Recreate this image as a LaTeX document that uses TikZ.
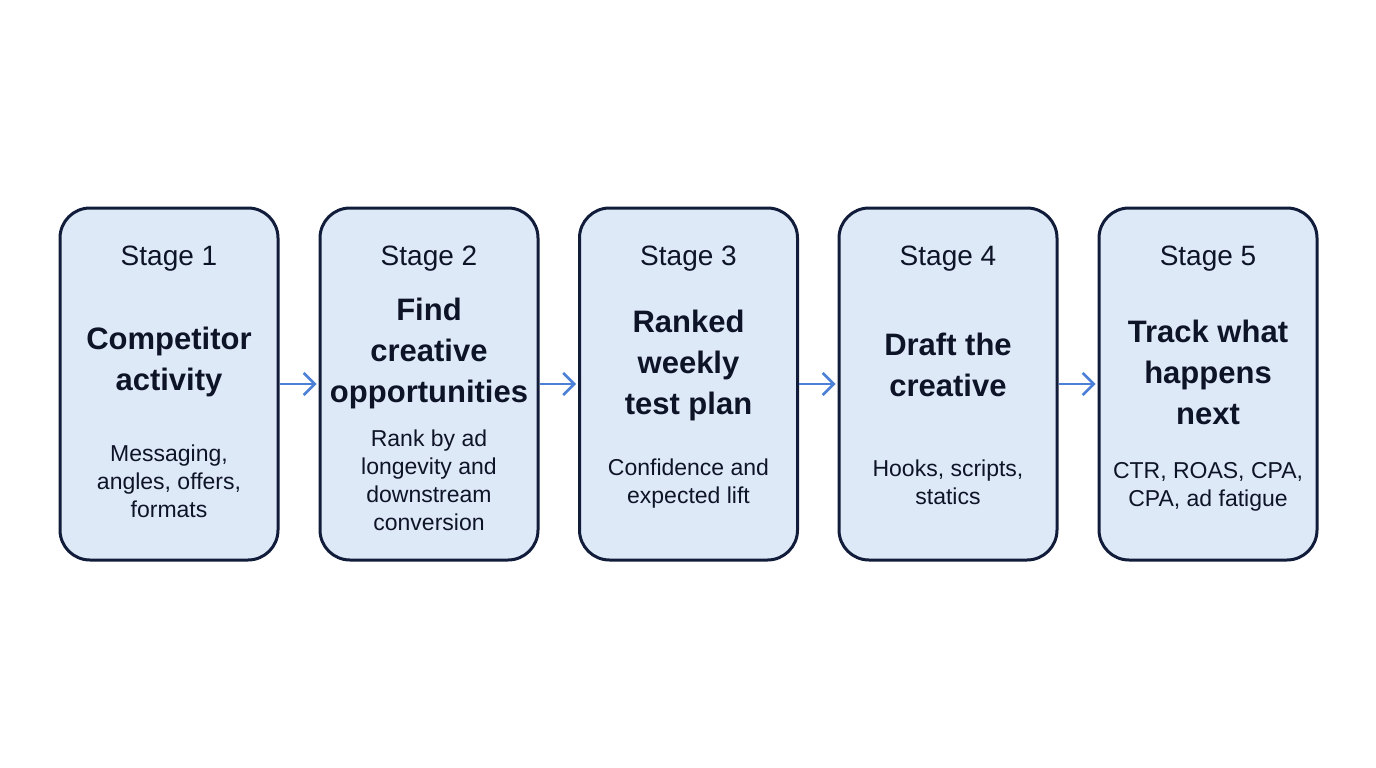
\documentclass[tikz,border=0pt]{standalone}
\usepackage{fontspec}
\setmainfont{Liberation Sans}
\usetikzlibrary{arrows.meta, positioning}

\definecolor{boxfill}{HTML}{DEE9F8}
\definecolor{boxline}{HTML}{111C3A}
\definecolor{ink}{HTML}{0E1428}
\definecolor{flowblue}{HTML}{4B80D6}

\tikzset{
  stagebox/.style={draw=boxline, fill=boxfill, line width=3pt, rounded corners=30pt,
    minimum width=218pt, minimum height=352pt, inner sep=0pt},
  stagelbl/.style={text=ink, font=\fontsize{28}{34}\selectfont, inner sep=0pt},
  title/.style={text=ink, align=center, font=\bfseries\fontsize{31}{41}\selectfont, inner sep=0pt},
  desc/.style={text=ink, align=center, font=\fontsize{23}{28}\selectfont, inner sep=0pt},
  flow/.style={draw=flowblue, line width=2.5pt, -{Straight Barb[length=11pt, width=22pt, line width=2.5pt]}, shorten >=2pt}
}

\begin{document}
\begin{tikzpicture}[x=1pt, y=-1pt]
\useasboundingbox (0,0) rectangle (1376,768);

% boxes
\node[stagebox] (s1) at (169, 384) {};
\node[stagebox] (s2) at (429, 384) {};
\node[stagebox] (s3) at (688.5, 384) {};
\node[stagebox] (s4) at (948, 384) {};
\node[stagebox] (s5) at (1208, 384) {};

% stage 1
\node[stagelbl] (l1) at (169, 259) {Stage 1};
\node[title] (t1) at (169, 362) {Competitor\\activity};
\node[desc] (d1) at (169, 481) {Messaging,\\angles, offers,\\formats};

% stage 2
\node[stagelbl] (l2) at (429, 259) {Stage 2};
\node[title] (t2) at (429, 353) {Find\\creative\\opportunities};
\node[desc] (d2) at (429, 480) {Rank by ad\\longevity and\\downstream\\conversion};

% stage 3
\node[stagelbl] (l3) at (688.5, 259) {Stage 3};
\node[title] (t3) at (688.5, 365) {Ranked\\weekly\\test plan};
\node[desc] (d3) at (688.5, 484) {Confidence and\\expected lift};

% stage 4
\node[stagelbl] (l4) at (948, 259) {Stage 4};
\node[title] (t4) at (948, 365) {Draft the\\creative};
\node[desc] (d4) at (948, 482) {Hooks, scripts,\\statics};

% stage 5
\node[stagelbl] (l5) at (1208, 259) {Stage 5};
\node[title] (t5) at (1208, 372) {Track what\\happens\\next};
\node[desc] (d5) at (1208, 487) {CTR, ROAS, CPA,\\CPA, ad fatigue};

% arrows
\draw[flow] (s1) -- (s2);
\draw[flow] (s2) -- (s3);
\draw[flow] (s3) -- (s4);
\draw[flow] (s4) -- (s5);
\end{tikzpicture}
\end{document}
